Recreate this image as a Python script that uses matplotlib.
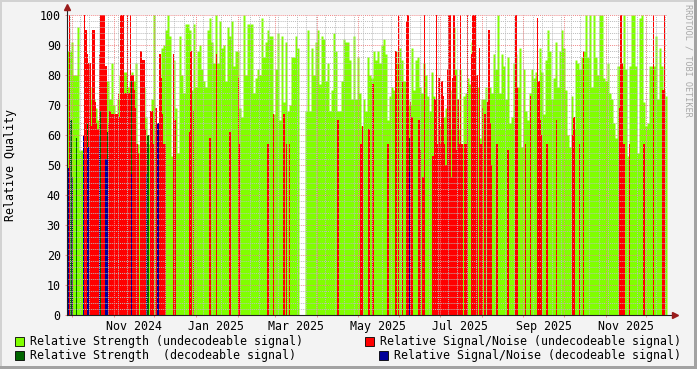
import matplotlib
matplotlib.use("Agg")
import matplotlib.pyplot as plt
import matplotlib.dates as mdates
from matplotlib.patches import Rectangle
from datetime import datetime, timedelta
import numpy as np

# figure size in px
W, H = 697, 369

# time frame of the graph
START = datetime(2024, 9, 27, 12)
SPAN_DAYS = 445
GREEN_STEP = SPAN_DAYS / 300.0   # one strength value per ~2 px column

# Relative Strength (undecodeable signal), one value per column
strength_undec = [
    88, 88, 91, 80, 80, 96, 55, 55, 60, 76, 76, 76, 72, 72, 69, 65, 66, 73, 73, 78,
    78, 72, 84, 70, 66, 72, 80, 74, 81, 81, 76, 78, 81, 78, 84, 57, 54, 60, 76, 66,
    60, 57, 72, 100, 62, 57, 75, 89,
    90, 95, 100, 93, 53, 85, 69, 54, 93, 80, 74, 97, 97, 95, 75, 97, 76, 88, 90, 82,
    78, 76, 95, 99, 91, 84, 100, 84, 98, 89, 90, 78, 96, 93, 98, 83, 88, 88, 69, 66,
    100, 80, 97, 97, 97, 74, 79, 82, 80, 99,
    86, 91, 95, 93, 93, 67, 82, 94, 65, 93, 71, 91, 68, 70, 86, 86, 93, 89, 0, 0,
    0, 68, 95, 68, 89, 80, 91, 95, 77, 93, 92, 78, 84, 68, 75, 94, 88, 68, 68, 78,
    92, 91, 91, 85, 72, 93, 72, 86, 74, 63,
    72, 68, 86, 80, 79, 88, 85, 88, 84, 90, 92, 87, 65, 73, 76, 75, 88, 84, 89, 85,
    78, 78, 72, 70, 89, 75, 85, 86, 76, 74, 84, 80, 73, 68, 81, 73, 72, 57, 63, 66,
    66, 69, 68, 75, 62, 96, 82, 62, 82, 57,
    73, 74, 79, 77, 91, 80, 79, 76, 59, 72, 72, 76, 69, 76, 74, 87, 82, 100, 74, 87,
    83, 72, 86, 64, 66, 84, 87, 76, 89, 56, 82, 68, 65, 74, 82, 79, 81, 78, 89, 81,
    67, 85, 95, 88, 72, 79, 91, 76, 88, 95,
    89, 75, 60, 56, 73, 62, 85, 84, 82, 86, 88, 100, 86, 100, 76, 100, 86, 80, 100, 100,
    79, 78, 84, 74, 72, 64, 59, 83, 83, 83, 100, 82, 53, 83, 100, 100, 83, 54, 99, 100,
    71, 63, 64, 83, 83, 83, 93, 72, 89, 83, 75, 73,
]

# Relative Signal/Noise (undecodeable signal): day offset, value
snr_undec_day = [
    0, 2, 3, 13, 14, 15, 16, 17, 18, 19, 20, 21, 22, 23, 24, 25, 26, 27, 28, 29,
    30, 31, 32, 33, 34, 35, 36, 37, 38, 39, 40, 41, 42, 43, 44, 45, 46, 47, 48, 49,
    50, 51, 52, 53, 55, 56, 57, 58, 59, 60, 62, 63, 64, 66, 67, 68, 69, 70, 71, 72,
    73, 79, 80, 91, 92, 94, 106, 111, 121, 127, 128, 149, 153, 161, 163, 165, 201, 218, 219, 224,
    227, 238, 244, 246, 249, 252, 253, 255, 256, 261, 262, 264, 265, 271, 272, 273, 274, 275, 276, 277,
    278, 279, 280, 281, 282, 283, 284, 285, 286, 287, 288, 289, 290, 291, 292, 293, 295, 296, 297, 300,
    301, 302, 303, 304, 306, 307, 308, 310, 312, 313, 314, 315, 319, 327, 333, 334, 340, 344, 349, 350,
    351, 352, 356, 363, 375, 376, 380, 383, 410, 411, 412, 413, 417, 428, 435, 442, 443,
]
snr_undec_val = [
    75, 100, 57, 100, 95, 87, 84, 84, 63, 95, 95, 71, 64, 62, 87, 100, 100, 100, 100, 83,
    61, 64, 68, 67, 67, 67, 67, 67, 74, 66, 100, 100, 100, 74, 74, 100, 74, 100, 80, 80,
    75, 69, 57, 54, 88, 85, 85, 62, 57, 57, 68, 68, 57, 69, 57, 57, 87, 79, 67, 57,
    57, 87, 65, 61, 88, 68, 59, 87, 61, 79, 57, 57, 67, 67, 57, 57, 65, 57, 63, 62,
    77, 57, 88, 100, 78, 98, 100, 71, 66, 65, 55, 46, 100, 53, 53, 72, 100, 57, 79, 57,
    78, 73, 57, 50, 82, 100, 100, 46, 79, 100, 80, 55, 72, 57, 100, 57, 57, 57, 100, 87,
    100, 100, 100, 80, 89, 57, 69, 67, 71, 95, 64, 50, 57, 55, 100, 76, 57, 73, 99, 78,
    65, 60, 57, 65, 60, 66, 57, 88, 69, 100, 84, 57, 57, 57, 100, 75, 100,
]

# Relative Strength (decodeable signal)
strength_dec_day = [3, 7, 15, 25, 30, 48, 60, 67, 254]
strength_dec_val = [65, 59, 64, 68, 61, 78, 60, 62, 59]

# Relative Signal/Noise (decodeable signal)
snr_dec_day = [0, 1, 4, 12, 15, 16, 24, 29, 30, 48, 59, 67, 68, 254]
snr_dec_val = [49, 49, 46, 60, 56, 56, 60, 52, 52, 47, 47, 64, 64, 48]

LABELS = [
    "Relative Strength (undecodeable signal)",
    "Relative Signal/Noise (undecodeable signal)",
    "Relative Strength  (decodeable signal)",
    "Relative Signal/Noise (decodeable signal)",
]
C_LGREEN = "#80FF00"
C_DGREEN = "#006600"
C_RED = "#FF0000"
C_BLUE = "#000099"
C_MGRID = "#F08A8A"
C_GRID = "#BDBDBD"
C_ARROW = "#9A1C1C"

plt.rcParams['font.family'] = ['DejaVu Sans Mono']
FS = 8.4


def fx(px):
    return px / W


def fy(py):
    return 1 - py / H


fig = plt.figure(figsize=(W / 100, H / 100), dpi=100, facecolor="#F3F3F3")
ax = fig.add_axes([fx(67), fy(315), 600 / W, 300 / H])
ax.set_facecolor("white")

t0 = mdates.date2num(START)

# light green area (step)
edges = t0 + np.arange(len(strength_undec) + 1) * GREEN_STEP
g = np.append(strength_undec, strength_undec[-1])
ax.fill_between(edges, 0, g, step="post", color=C_LGREEN, linewidth=0, zorder=1)

ax.bar(t0 + np.array(snr_undec_day), snr_undec_val, width=1.0, color=C_RED, linewidth=0, zorder=2)
ax.bar(t0 + np.array(strength_dec_day), strength_dec_val, width=1.0, color=C_DGREEN, linewidth=0, zorder=3)
ax.bar(t0 + np.array(snr_dec_day), snr_dec_val, width=1.0, color=C_BLUE, linewidth=0, zorder=4)

ax.set_xlim(t0, t0 + SPAN_DAYS)
ax.set_ylim(0, 100)

# grid on top of the data, rrdtool style
dots = (0, (1, 1))
for v in range(2, 101, 2):
    if v % 10:
        ax.axhline(v, color=C_GRID, lw=0.7, ls=dots, zorder=5)
for v in range(10, 101, 10):
    ax.axhline(v, color=C_MGRID, lw=0.7, ls=dots, zorder=5)

end = START + timedelta(days=SPAN_DAYS)
d = datetime(2024, 9, 30)
while d < end:
    ax.axvline(mdates.date2num(d), color=C_GRID, lw=0.7, ls=dots, zorder=5)
    d += timedelta(days=7)

months = []
y, m = 2024, 10
while datetime(y, m, 1) < end:
    months.append(datetime(y, m, 1))
    m += 1
    if m > 12:
        y, m = y + 1, 1
for mo in months:
    ax.axvline(mdates.date2num(mo), color=C_MGRID, lw=0.7, ls=dots, zorder=5)

# ticks
ax.set_yticks(range(0, 101, 10))
ax.set_yticklabels([str(v) for v in range(0, 101, 10)], fontsize=FS)
ax.set_xticks([mdates.date2num(mo) for mo in months])
ax.set_xticklabels([])
lab_dates = [mo + timedelta(days=15) for mo in months if mo.month % 2 == 1]
ax.set_xticks([mdates.date2num(x) for x in lab_dates], minor=True)
ax.set_xticklabels([x.strftime("%b %Y") for x in lab_dates], minor=True, fontsize=FS)
ax.tick_params(axis="both", which="major", length=1.5, width=0.7, color=C_MGRID)
ax.tick_params(axis="x", which="minor", length=0, pad=3.5)
ax.tick_params(axis="y", pad=3)

for s in ax.spines.values():
    s.set_visible(False)

# axis lines with arrows
ax.plot([0, 1 + 6 / 600], [0, 0], transform=ax.transAxes, color="#202020", lw=0.8,
        clip_on=False, zorder=6)
ax.plot([0, 0], [0, 1 + 6 / 300], transform=ax.transAxes, color="#202020", lw=0.8,
        clip_on=False, zorder=6)
ax.plot([1 + 8 / 600], [0], transform=ax.transAxes, marker=">", ms=4.5, color=C_ARROW,
        clip_on=False, zorder=7)
ax.plot([0], [1 + 8 / 300], transform=ax.transAxes, marker="^", ms=4.5, color=C_ARROW,
        clip_on=False, zorder=7)

fig.text(fx(11), fy(165), "Relative Quality", rotation=90, ha="center", va="center",
         fontsize=FS)
fig.text(fx(688), fy(4), "RRDTOOL / TOBI OETIKER", rotation=270, ha="center", va="top",
         fontsize=6.1, color="#A8A8A8")

# legend
legend_pos = [(15, 30, 341), (365, 380, 341), (15, 30, 355), (379, 394, 355)]
colors = [C_LGREEN, C_RED, C_DGREEN, C_BLUE]
for (sx, tx, cy), col, lab in zip(legend_pos, colors, LABELS):
    fig.add_artist(Rectangle((fx(sx), fy(cy + 4.5)), 9 / W, 9 / H, transform=fig.transFigure,
                             facecolor=col, edgecolor="#000000", lw=0.6))
    fig.text(fx(tx), fy(cy), lab, ha="left", va="center", fontsize=FS)

# 3d-ish border of the image
fig.add_artist(Rectangle((0, 1 - 2 / H), 1, 2 / H, transform=fig.transFigure,
                         facecolor="#D2D2D2", lw=0))
fig.add_artist(Rectangle((0, 0), 2 / W, 1, transform=fig.transFigure,
                         facecolor="#D2D2D2", lw=0))
fig.add_artist(Rectangle((0, 0), 1, 3 / H, transform=fig.transFigure,
                         facecolor="#A2A2A2", lw=0))
fig.add_artist(Rectangle((1 - 3 / W, 0), 3 / W, 1, transform=fig.transFigure,
                         facecolor="#A2A2A2", lw=0))

fig.savefig("out.png", dpi=100, facecolor=fig.get_facecolor())
